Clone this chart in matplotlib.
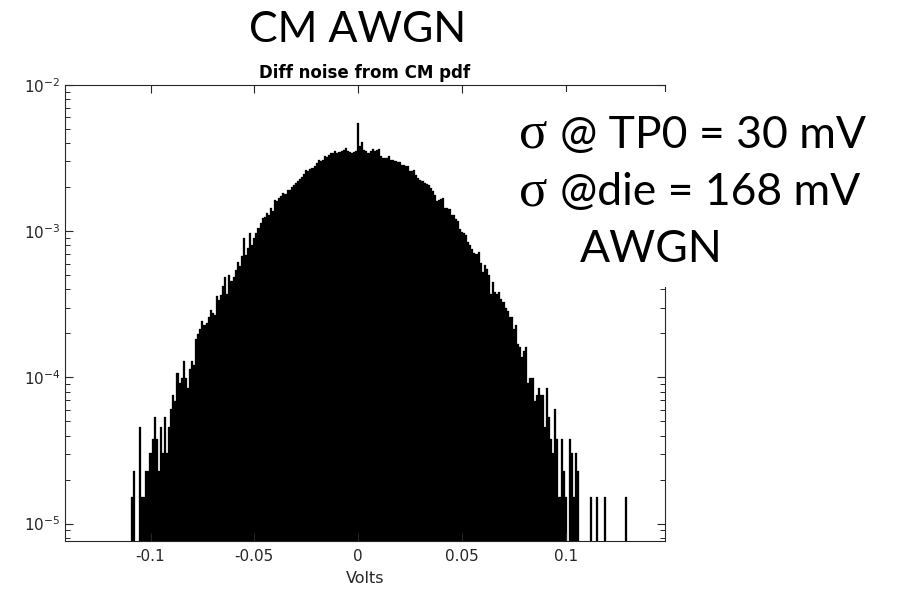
import numpy as np
import matplotlib
matplotlib.use("Agg")
import matplotlib.pyplot as plt
from matplotlib.patches import Rectangle
from matplotlib.ticker import LogLocator, NullFormatter

plt.rcParams['axes.unicode_minus'] = False
plt.rcParams['font.family'] = ['DejaVu Sans']
plt.rcParams['mathtext.fontset'] = 'dejavusans'

# histogram of diff noise, 1 mV bins, counts out of 2^17 samples
n_samples = 131072
bin_start_mv = -110
counts = [
    0, 2, 3, 0, 0, 6, 2, 2, 3, 3,            # -110 .. -101
    4, 5, 7, 5, 3, 6, 4, 7, 4, 6,            # -100 .. -91
    8, 10, 9, 14, 12, 13, 17, 13, 11, 15,    # -90 .. -81
    17, 16, 24, 26, 28, 32, 30, 31, 34, 38,  # -80 .. -71
    36, 35, 47, 44, 48, 55, 64, 49, 66, 60,  # -70 .. -61
    64, 71, 81, 76, 88, 117, 90, 100, 127, 105,   # -60 .. -51
    118, 127, 138, 149, 161, 165, 174, 170, 189, 180,  # -50 .. -41
    215, 210, 220, 227, 239, 235, 252, 252, 262, 272,  # -40 .. -31
    280, 287, 300, 310, 325, 345, 340, 350, 352, 364,  # -30 .. -21
    383, 403, 395, 400, 425, 420, 435, 448, 448, 460,  # -20 .. -11
    448, 455, 465, 470, 485, 462, 458, 450, 455, 460,  # -10 .. -1
    720,                                               # 0
    498, 530, 470, 462, 450, 465, 477, 460, 468, 477,  # 1 .. 10
    425, 414, 416, 414, 430, 403, 405, 398, 390, 387,  # 11 .. 20
    372, 370, 364, 366, 336, 340, 345, 319, 302, 295,  # 21 .. 30
    287, 280, 276, 272, 258, 245, 230, 212, 213, 218,  # 31 .. 40
    221, 189, 190, 187, 170, 168, 160, 153, 135, 130,  # 41 .. 50
    127, 123, 110, 105, 99, 93, 92, 95, 79, 69,        # 51 .. 60
    77, 72, 66, 49, 59, 50, 49, 50, 45, 43,            # 61 .. 70
    39, 37, 34, 34, 28, 30, 22, 21, 18, 20,            # 71 .. 80
    21, 12, 13, 13, 9, 10, 11, 10, 10, 6,              # 81 .. 90
    11, 7, 5, 4, 8, 5, 2, 5, 3, 2,                     # 91 .. 100
    0, 5, 4, 2, 4, 3, 0, 0, 0, 0,                      # 101 .. 110
    0, 2, 0, 0, 2, 0, 0, 0, 2, 0,                      # 111 .. 120
    0, 0, 0, 0, 0, 0, 0, 0, 2, 0,                      # 121 .. 130
]

counts = np.array(counts, dtype=float)
volts = (bin_start_mv + np.arange(len(counts))) * 1e-3
pdf = counts / n_samples
keep = counts > 0

fig = plt.figure(figsize=(9.04, 5.97), dpi=100)
ax = fig.add_axes([65/904, 1-540.7/597, 600/904, 455.7/597])

ax.bar(volts[keep], pdf[keep], width=0.001, color='black', edgecolor='black', linewidth=0.2)

ax.set_yscale('log')
ax.set_ylim(1.0/n_samples, 1e-2)
ax.set_xlim(-0.1412, 0.1478)
ax.set_xticks([-0.1, -0.05, 0, 0.05, 0.1])
ax.set_xticklabels(['-0.1', '-0.05', '0', '0.05', '0.1'])
ax.yaxis.set_major_locator(LogLocator(base=10, numticks=10))
ax.yaxis.set_minor_locator(LogLocator(base=10, subs=np.arange(2, 10), numticks=20))
ax.yaxis.set_minor_formatter(NullFormatter())

grey = '#262626'
for s in ax.spines.values():
    s.set_color(grey)
    s.set_linewidth(0.8)
ax.tick_params(which='both', direction='in', top=True, right=True, colors=grey, labelsize=11)
ax.tick_params(which='major', length=6, width=0.8)
ax.tick_params(which='minor', length=3.5, width=0.7)
ax.tick_params(axis='x', which='minor', top=False, bottom=False)
ax.tick_params(axis='x', pad=6)

ax.set_title('Diff noise from CM pdf', fontsize=12, fontweight='bold', color='black', pad=5)
ax.set_xlabel('Volts', fontsize=11.5, color=grey, labelpad=5)

# slide annotations
fig.text(358/904, 1-42/597, 'CM AWGN', fontsize=31, family='Lato', ha='center', va='baseline')

fig.add_artist(Rectangle((515/904, 1-287/597), (904-515)/904, (287-92)/597,
                         transform=fig.transFigure, facecolor='white', edgecolor='none', zorder=5))
lines = [('@ TP0 = 30 mV', 148, True), ('@die = 168 mV', 205, True), ('AWGN', 262, False)]
for txt, base, sig in lines:
    if sig:
        fig.text(519/904, 1-base/597, '\u03c3', fontsize=38, family='Liberation Serif',
                 ha='left', va='baseline', zorder=6)
        fig.text(560/904, 1-base/597, txt, fontsize=32, family='Lato',
                 ha='left', va='baseline', zorder=6)
    else:
        fig.text(580/904, 1-base/597, txt, fontsize=32, family='Lato',
                 ha='left', va='baseline', zorder=6)

fig.savefig('out.png', dpi=100)
